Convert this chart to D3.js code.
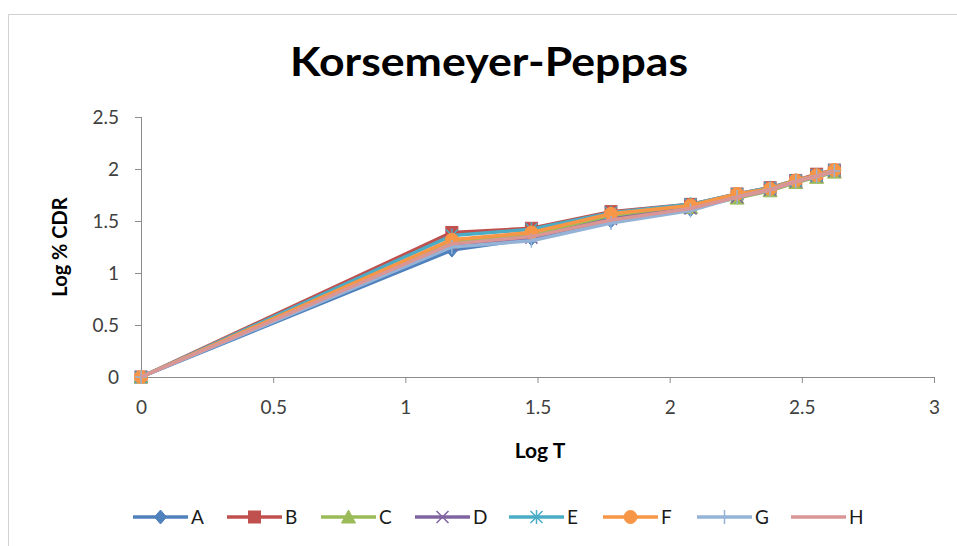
<!DOCTYPE html>
<html><head><meta charset="utf-8">
<script src="https://cdn.jsdelivr.net/npm/d3@7"></script>
<style>body{margin:0;background:#fff;}svg{display:block;font-family:Lato,"Open Sans",sans-serif;}</style>
</head><body>
<svg id="c" width="957" height="546"></svg>
<script>
const logT = [0, 1.176, 1.477, 1.778, 2.079, 2.255, 2.380, 2.477, 2.556, 2.623];
const seriesNames = ["A","B","C","D","E","F","G","H"];
const A = [0, 1.22, 1.33, 1.50, 1.61, 1.74, 1.80, 1.88, 1.93, 1.98];
const B = [0, 1.39, 1.43, 1.59, 1.66, 1.76, 1.82, 1.89, 1.95, 1.99];
const C = [0, 1.30, 1.37, 1.54, 1.63, 1.72, 1.79, 1.87, 1.92, 1.97];
const D = [0, 1.27, 1.34, 1.52, 1.62, 1.73, 1.80, 1.88, 1.93, 1.98];
const E = [0, 1.36, 1.42, 1.58, 1.66, 1.76, 1.82, 1.89, 1.94, 1.99];
const F = [0, 1.32, 1.39, 1.57, 1.65, 1.76, 1.81, 1.89, 1.94, 1.99];
const G = [0, 1.25, 1.31, 1.48, 1.60, 1.73, 1.80, 1.88, 1.93, 1.98];
const H = [0, 1.28, 1.35, 1.51, 1.62, 1.73, 1.80, 1.88, 1.93, 1.98];
const seriesValues = [A,B,C,D,E,F,G,H];
const colors = ["#4F81BD","#C0504D","#9BBB59","#8064A2","#4BACC6","#F79646","#95B3D7","#D99694"];
const markers = ["diamond","square","triangle","x","star","circle","plus","none"];
const xTicks = [0,0.5,1,1.5,2,2.5,3];
const yTicks = [0,0.5,1,1.5,2,2.5];

const svg = d3.select("#c");
svg.append("path").attr("d","M8.5,546 L8.5,14.5 L957,14.5").attr("fill","none").attr("stroke","#d0d0d0").attr("stroke-width",1);

const x = d3.scaleLinear().domain([0,3]).range([141,934]);
const y = d3.scaleLinear().domain([0,2.5]).range([377,117]);

svg.append("text").attr("x",290).attr("y",76)
  .attr("textLength",398).attr("lengthAdjust","spacingAndGlyphs")
  .attr("font-size",40).attr("font-weight","bold").attr("fill","#000").text("Korsemeyer-Peppas");

const gy = svg.append("g").attr("transform","translate(141,0)")
  .call(d3.axisLeft(y).tickValues(yTicks).tickFormat(d=>String(d)).tickSize(6).tickPadding(16));
const gx = svg.append("g").attr("transform","translate(0,377)")
  .call(d3.axisBottom(x).tickValues(xTicks).tickFormat(d=>String(d)).tickSize(6).tickPadding(18));
[gx,gy].forEach(g=>{
  g.selectAll("path,line").attr("stroke","#8c8c8c").attr("stroke-width",1);
  g.selectAll("text").attr("font-size",19).attr("fill","#404040").attr("font-family","Lato,sans-serif");
});
gy.select(".domain").attr("d","M0.5,117V377.5");
gx.select(".domain").attr("d","M141,0.5H934.5");

svg.append("text").attr("transform","translate(67,247) rotate(-90)").attr("text-anchor","middle")
  .attr("font-size",20).attr("font-weight","bold").attr("fill","#000").text("Log % CDR");
svg.append("text").attr("x",540).attr("y",458).attr("text-anchor","middle")
  .attr("font-size",21).attr("font-weight","bold").attr("fill","#000").text("Log T");

function drawMarker(g, type, cx, cy, color){
  const s = 6;
  if(type==="diamond"){
    g.append("path").attr("d",`M${cx},${cy-s-1}L${cx+s},${cy}L${cx},${cy+s+1}L${cx-s},${cy}Z`).attr("fill",color).attr("stroke",color);
  } else if(type==="square"){
    g.append("rect").attr("x",cx-s).attr("y",cy-s).attr("width",2*s).attr("height",2*s).attr("fill",color).attr("stroke",color);
  } else if(type==="triangle"){
    g.append("path").attr("d",`M${cx},${cy-s-1}L${cx+s+1},${cy+s}L${cx-s-1},${cy+s}Z`).attr("fill",color).attr("stroke",color);
  } else if(type==="x"){
    g.append("path").attr("d",`M${cx-s},${cy-s}L${cx+s},${cy+s}M${cx-s},${cy+s}L${cx+s},${cy-s}`).attr("stroke",color).attr("stroke-width",1.5);
  } else if(type==="star"){
    g.append("path").attr("d",`M${cx-s},${cy-s}L${cx+s},${cy+s}M${cx-s},${cy+s}L${cx+s},${cy-s}M${cx},${cy-s-1}L${cx},${cy+s+1}`).attr("stroke",color).attr("stroke-width",1.5);
  } else if(type==="circle"){
    g.append("circle").attr("cx",cx).attr("cy",cy).attr("r",s+0.5).attr("fill",color).attr("stroke",color);
  } else if(type==="plus"){
    g.append("path").attr("d",`M${cx-s},${cy}L${cx+s},${cy}M${cx},${cy-s-1}L${cx},${cy+s+1}`).attr("stroke",color).attr("stroke-width",1.5);
  }
}

const line = d3.line().x(d=>x(d[0])).y(d=>y(d[1]));
seriesValues.forEach((vals,i)=>{
  const g = svg.append("g");
  const pts = logT.map((t,j)=>[t,vals[j]]);
  g.append("path").datum(pts).attr("d",line).attr("fill","none")
    .attr("stroke",colors[i]).attr("stroke-width",3.5).attr("stroke-linejoin","round");
  pts.forEach(p=>drawMarker(g, markers[i], x(p[0]), y(p[1]), colors[i]));
});

const lg = svg.append("g");
seriesNames.forEach((n,i)=>{
  const x0 = 133 + i*94;
  const ly = 517;
  lg.append("line").attr("x1",x0).attr("x2",x0+55).attr("y1",ly).attr("y2",ly)
    .attr("stroke",colors[i]).attr("stroke-width",3.5);
  drawMarker(lg, markers[i], x0+27.5, ly, colors[i]);
  lg.append("text").attr("x",x0+58).attr("y",ly+7).attr("font-size",19).attr("fill","#1a1a1a").text(n);
});
</script>
</body></html>
